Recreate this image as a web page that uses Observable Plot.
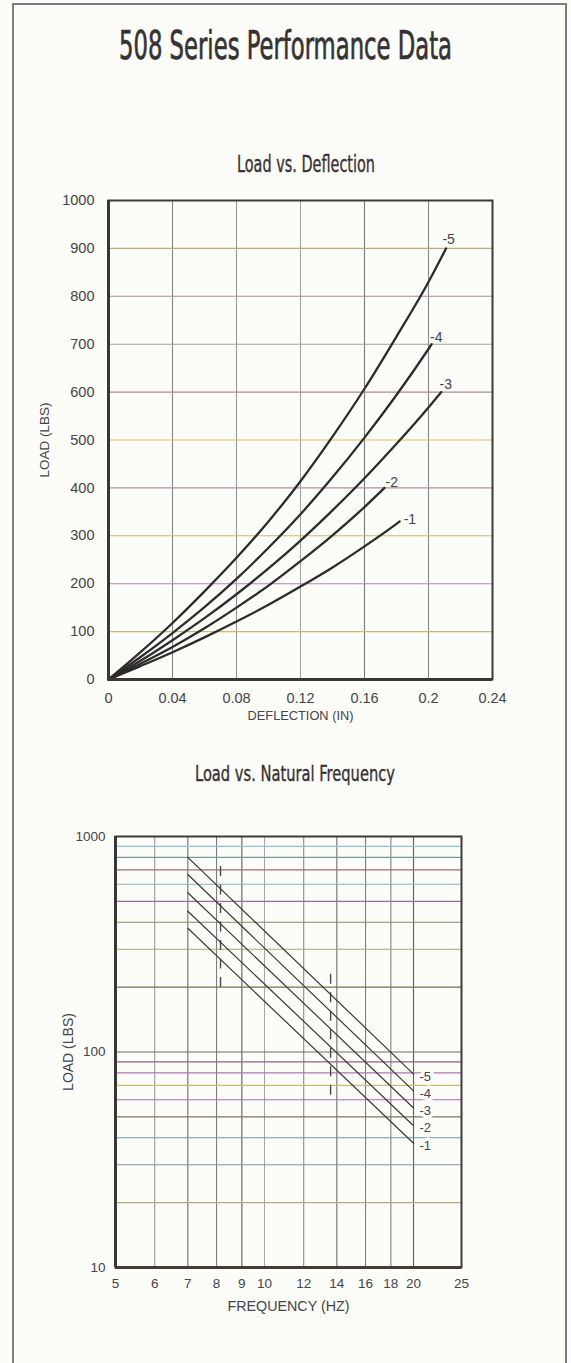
<!DOCTYPE html>
<html><head><meta charset="utf-8">
<script src="https://cdn.jsdelivr.net/npm/d3@7"></script>
<script src="https://cdn.jsdelivr.net/npm/@observablehq/plot@0.6"></script>
<style>
html,body{margin:0;padding:0;background:#fcfcf8;}
body{width:571px;height:1363px;position:relative;overflow:hidden;}
#frame{position:absolute;left:12px;top:3px;width:555px;height:1400px;border:2px solid #7d7d82;box-sizing:border-box;}
.ttl{position:absolute;white-space:nowrap;font-family:"DejaVu Sans";font-stretch:condensed;color:#363234;transform-origin:0 0;line-height:1;}
#title{-webkit-text-stroke:0.7px #363234;}
#sub1,#sub2{-webkit-text-stroke:0.35px #363234;}
.chart{position:absolute;left:0;width:571px;}
</style></head><body>
<div id="frame"></div>
<div id="title" class="ttl">508 Series Performance Data</div>
<div id="sub1" class="ttl">Load vs. Deflection</div>
<div id="sub2" class="ttl">Load vs. Natural Frequency</div>
<div id="c1" class="chart" style="top:180px"></div>
<div id="c2" class="chart" style="top:800px"></div>
<script>
// ---------- DATA: Load vs. Deflection ----------
const seriesNames = ["-1", "-2", "-3", "-4", "-5"];
const defl1 = [0, 0.02, 0.04, 0.06, 0.08, 0.10, 0.12, 0.14, 0.16, 0.18, 0.182];
const load1 = [0, 28, 57, 88, 121, 156, 194, 234, 278, 325, 330];
const defl2 = [0, 0.02, 0.04, 0.06, 0.08, 0.10, 0.12, 0.14, 0.16, 0.1725];
const load2 = [0, 33, 68, 107, 150, 196, 247, 301, 360, 400];
const defl3 = [0, 0.02, 0.04, 0.06, 0.08, 0.10, 0.12, 0.14, 0.16, 0.18, 0.20, 0.208];
const load3 = [0, 39, 82, 128, 178, 232, 290, 353, 420, 492, 568, 600];
const defl4 = [0, 0.02, 0.04, 0.06, 0.08, 0.10, 0.12, 0.14, 0.16, 0.18, 0.20, 0.202];
const load4 = [0, 47, 97, 151, 210, 275, 345, 422, 505, 594, 690, 700];
const defl5 = [0, 0.02, 0.04, 0.06, 0.08, 0.10, 0.12, 0.14, 0.16, 0.18, 0.20, 0.211];
const load5 = [0, 57, 118, 184, 254, 330, 414, 507, 607, 716, 830, 900];
const deflTicks = [0, 0.04, 0.08, 0.12, 0.16, 0.2, 0.24];
const loadTicks = [0, 100, 200, 300, 400, 500, 600, 700, 800, 900, 1000];
const deflGrid = [0.04, 0.08, 0.12, 0.16, 0.2];
const loadGrid = [100, 200, 300, 400, 500, 600, 700, 800, 900];

// ---------- DATA: Load vs. Natural Frequency ----------
const freqEnds = [7, 20];
const nf1 = [375, 37.7];
const nf2 = [450, 45.5];
const nf3 = [548, 55];
const nf4 = [666, 66];
const nf5 = [800, 79];
const dashFreq = [8.15, 13.6];
const dashLow = [199, 63];
const dashHigh = [740, 239];
const freqTicks = [5, 6, 7, 8, 9, 10, 12, 14, 16, 18, 20, 25];
const freqGrid = [6, 7, 8, 9, 10, 12, 14, 16, 18, 20];
const nfLoadTicks = [10, 100, 1000];
const nfLoadGrid = [20, 30, 40, 50, 60, 70, 80, 90, 100, 200, 300, 400, 500, 600, 700, 800, 900];

// ---------- STYLES ----------
const inkDark = "#2f2b2d";
const tickInk = "#45444a";
const topVGridColors = ["#858587", "#98989a", "#a4a4a6", "#7a7a7c", "#88888a"];
const topHGridColors = ["#c2bb7e", "#b884b8", "#c4bc72", "#a894a4", "#d2c46c", "#b08a94", "#98aaa0", "#a88c9c", "#b8ae74"];
const botVGridColors = ["#9a9a9c", "#6e6e70", "#7e7e80", "#5e5e60", "#a8a8aa", "#8a8a8c", "#6e6e70", "#808082", "#808082", "#5e5e60"];
const botHGridColors = ["#b2b078", "#82989c", "#6a9aa4", "#7c7a5c", "#b466b0", "#c8c070", "#b274b2", "#9a5c8a", "#6e6e5e",
                        "#727252", "#a8a870", "#8a8a62", "#9a6aa0", "#88b4bc", "#a06a80", "#6f9aa2", "#8fc4cc"];

function fitText(id, left, right, capTop, capH) {
  const el = document.getElementById(id);
  const fs = capH / 0.729;
  el.style.fontSize = fs + "px";
  el.style.left = left + "px";
  el.style.top = (capTop - 0.117 * fs) + "px";
  const w = el.getBoundingClientRect().width;
  el.style.transform = `scaleX(${(right - left) / w})`;
}
fitText("title", 119, 452, 31, 28);
fitText("sub1", 237, 375, 156, 16.5);
fitText("sub2", 195, 395, 766, 16);

const baseStyle = {background: "transparent", fontFamily: "'Liberation Sans', Arial, sans-serif", fontSize: "14.5px", color: tickInk, overflow: "visible"};

// ---------- Chart 1 ----------
const defls = [defl1, defl2, defl3, defl4, defl5];
const loads = [load1, load2, load3, load4, load5];
const curveRows = defls.flatMap((ds, k) => ds.map((d, i) => ({series: seriesNames[k], d, load: loads[k][i]})));
const ends = defls.map((ds, k) => ({series: seriesNames[k], d: ds[ds.length - 1], load: loads[k][loads[k].length - 1]}));
const labelOffsets = [[4, -2], [1, -5], [-1.7, -8], [-1.7, -7], [-3.7, -9]];

const p1 = Plot.plot({
  width: 571, height: 560,
  marginLeft: 108, marginRight: 79, marginTop: 20, marginBottom: 61,
  style: baseStyle,
  color: {type: "identity"},
  x: {domain: [deflTicks[0], deflTicks[deflTicks.length - 1]]},
  y: {domain: [loadTicks[0], loadTicks[loadTicks.length - 1]]},
  marks: [
    Plot.ruleX(deflGrid, {x: d => d, stroke: (d, i) => topVGridColors[i], strokeWidth: 1.1}),
    Plot.ruleY(loadGrid, {y: d => d, stroke: (d, i) => topHGridColors[i], strokeWidth: 1.1}),
    Plot.line(curveRows, {x: "d", y: "load", z: "series", stroke: inkDark, strokeWidth: 2.3, curve: "monotone-x"}),
    ...ends.map((e, k) => Plot.text([e], {x: "d", y: "load", text: "series", textAnchor: "start",
      dx: labelOffsets[k][0], dy: labelOffsets[k][1], fontSize: 14, fill: tickInk})),
    Plot.frame({stroke: "#3e3a3c", strokeWidth: 2}),
    Plot.ruleX([deflTicks[0]], {stroke: "#3a3638", strokeWidth: 3}),
    Plot.ruleY([loadTicks[0]], {stroke: "#3a3638", strokeWidth: 3}),
    Plot.axisX({ticks: deflTicks, tickSize: 0, tickPadding: 13, tickFormat: d => String(d), label: null}),
    Plot.axisY({ticks: loadTicks, tickSize: 0, tickPadding: 14, tickFormat: d => String(d), label: null}),
    Plot.text(["DEFLECTION (IN)"], {frameAnchor: "bottom", lineAnchor: "middle", textAnchor: "middle", dy: 36, fontSize: 12.8, fill: tickInk}),
    Plot.text(["LOAD (LBS)"], {frameAnchor: "left", lineAnchor: "middle", textAnchor: "middle", dx: -64, rotate: -90, fontSize: 13.5, fill: tickInk})
  ]
});
document.getElementById("c1").append(p1);

// ---------- Chart 2 ----------
const nfs = [nf1, nf2, nf3, nf4, nf5];
const nfRows = nfs.flatMap((v, k) => freqEnds.map((f, i) => ({series: seriesNames[k], f, load: v[i]})));
const nfEnds = nfs.map((v, k) => ({series: seriesNames[k], f: freqEnds[1], load: v[1]}));
const dashRows = dashFreq.map((f, i) => ({f, lo: dashLow[i], hi: dashHigh[i]}));

const p2 = Plot.plot({
  width: 571, height: 540,
  marginLeft: 115, marginRight: 110, marginTop: 36, marginBottom: 73,
  style: {...baseStyle, fontSize: "13.5px"},
  color: {type: "identity"},
  x: {type: "log", domain: [freqTicks[0], freqTicks[freqTicks.length - 1]]},
  y: {type: "log", domain: [nfLoadTicks[0], nfLoadTicks[nfLoadTicks.length - 1]]},
  marks: [
    Plot.ruleX(freqGrid, {x: d => d, stroke: (d, i) => botVGridColors[i], strokeWidth: 1.1}),
    Plot.ruleY(nfLoadGrid, {y: d => d, stroke: (d, i) => botHGridColors[i], strokeWidth: 1.1}),
    Plot.ruleX(dashRows, {x: "f", y1: "lo", y2: "hi", stroke: "#4a4a4c", strokeWidth: 1.4, strokeDasharray: "10,8.5"}),
    Plot.line(nfRows, {x: "f", y: "load", z: "series", stroke: "#3c383a", strokeWidth: 1.2}),
    Plot.text(nfEnds, {x: "f", y: "load", text: "series", textAnchor: "start", dx: 6, dy: 2.5,
      fontSize: 13, fill: tickInk, stroke: "#fcfcf8", strokeWidth: 7, paintOrder: "stroke"}),
    Plot.frame({stroke: "#3e3a3c", strokeWidth: 2}),
    Plot.ruleX([freqTicks[0]], {stroke: "#3a3638", strokeWidth: 3}),
    Plot.ruleY([nfLoadTicks[0]], {stroke: "#4a3a30", strokeWidth: 3}),
    Plot.axisX({ticks: freqTicks, tickSize: 0, tickPadding: 11, tickFormat: d => String(d), label: null}),
    Plot.axisY({ticks: nfLoadTicks, tickSize: 0, tickPadding: 10, tickFormat: d => String(d), label: null}),
    Plot.text(["FREQUENCY (HZ)"], {frameAnchor: "bottom", lineAnchor: "middle", textAnchor: "middle", dy: 39, fontSize: 14.3, fill: tickInk}),
    Plot.text(["LOAD (LBS)"], {frameAnchor: "left", lineAnchor: "middle", textAnchor: "middle", dx: -47, rotate: -90, fontSize: 14, fill: tickInk})
  ]
});
document.getElementById("c2").append(p2);
</script>
</body></html>
